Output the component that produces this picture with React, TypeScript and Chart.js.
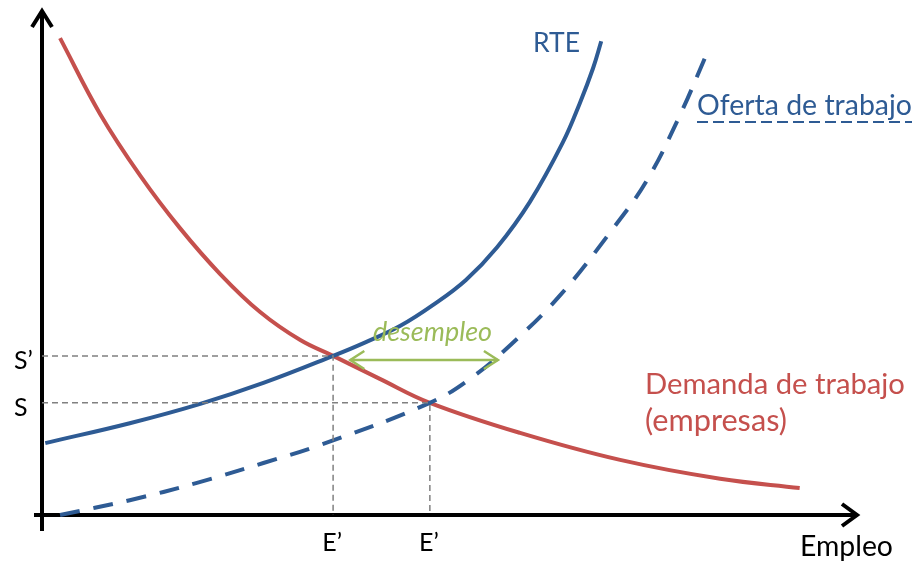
import React, { useEffect, useRef } from "react";
import { Chart, registerables } from "chart.js";

Chart.register(...registerables);

// Demand curve (Demanda de trabajo)
const demandX = [2.2, 7.1, 12.0, 16.8, 21.7, 26.6, 31.5, 35.5, 41.2, 47.3, 58.3, 70.5, 82.7, 92.4];
const demandY = [93.5, 78.6, 66.5, 56.3, 47.3, 39.8, 34.3, 31.2, 26.7, 22.0, 16.1, 10.8, 7.1, 5.3];

// RTE curve (solid)
const rteX = [0.4, 10.7, 19.3, 27.0, 35.5, 39.5, 43.7, 47.7, 51.7, 55.5, 59.5, 63.5, 65.6, 67.2, 68.2];
const rteY = [14.1, 18.0, 21.8, 25.9, 31.2, 33.9, 37.1, 41.2, 46.1, 52.5, 61.4, 73.0, 80.8, 87.6, 92.9];

// Oferta de trabajo (dashed)
const supplyX = [2.2, 10.7, 18.9, 27.0, 33.9, 47.3, 52.2, 57.1, 63.2, 69.6, 73.8, 77.8, 80.9];
const supplyY = [0.0, 2.9, 6.3, 10.2, 13.7, 22.0, 26.7, 33.3, 43.1, 56.1, 65.7, 78.4, 89.8];

// Equilibrium reference values
const eLabels = ["E\u2019", "E\u2019"];
const eValues = [35.5, 47.3];
const sLabels = ["S\u2019", "S"];
const sValues = [31.2, 22.0];

// desempleo arrow (between RTE and oferta)
const gapX = [37.6, 55.6];
const gapY = [30.4, 30.4];

const BLUE = "#2E5B94";
const RED = "#C5504D";
const GREEN = "#9BBB59";
const GREY = "#808080";
const FONT = "Lato, 'Open Sans', sans-serif";

const pts = (xs: number[], ys: number[]) => xs.map((x, i) => ({ x, y: ys[i] }));

function fitText(
  ctx: CanvasRenderingContext2D,
  text: string,
  x: number,
  y: number,
  width: number,
  color: string,
  style = "",
  align: CanvasTextAlign = "left"
) {
  ctx.font = `${style} 100px ${FONT}`;
  const w = ctx.measureText(text).width;
  const size = (100 * width) / w;
  ctx.font = `${style} ${size}px ${FONT}`;
  ctx.fillStyle = color;
  ctx.textAlign = align;
  ctx.textBaseline = "alphabetic";
  ctx.fillText(text, x, y);
}

function fixedText(
  ctx: CanvasRenderingContext2D,
  text: string,
  x: number,
  y: number,
  size: number,
  color: string,
  align: CanvasTextAlign = "left"
) {
  ctx.font = `${size}px ${FONT}`;
  ctx.fillStyle = color;
  ctx.textAlign = align;
  ctx.textBaseline = "alphabetic";
  ctx.fillText(text, x, y);
}

const diagramPlugin = {
  id: "diagram",
  beforeDatasetsDraw(chart: any) {
    const ctx = chart.ctx as CanvasRenderingContext2D;
    const { left, right, top, bottom } = chart.chartArea;
    ctx.save();
    ctx.strokeStyle = "#000";
    ctx.lineWidth = 4;
    ctx.lineJoin = "miter";
    ctx.lineCap = "butt";
    // y axis
    ctx.beginPath();
    ctx.moveTo(left, bottom + 16);
    ctx.lineTo(left, top + 6);
    ctx.stroke();
    ctx.beginPath();
    ctx.moveTo(left - 10, top + 22);
    ctx.lineTo(left, top + 6);
    ctx.lineTo(left + 10, top + 22);
    ctx.stroke();
    // x axis
    ctx.beginPath();
    ctx.moveTo(left - 8, bottom);
    ctx.lineTo(right - 5, bottom);
    ctx.stroke();
    ctx.beginPath();
    ctx.moveTo(right - 20, bottom - 11);
    ctx.lineTo(right - 5, bottom);
    ctx.lineTo(right - 20, bottom + 11);
    ctx.stroke();
    ctx.restore();
  },
  afterDraw(chart: any) {
    const ctx = chart.ctx as CanvasRenderingContext2D;
    const xs = chart.scales.x;
    const ys = chart.scales.y;
    const { left, bottom } = chart.chartArea;
    ctx.save();

    // desempleo arrowheads
    const ax1 = xs.getPixelForValue(gapX[0]);
    const ax2 = xs.getPixelForValue(gapX[1]);
    const ay = ys.getPixelForValue(gapY[0]);
    ctx.strokeStyle = GREEN;
    ctx.lineWidth = 2.5;
    ctx.beginPath();
    ctx.moveTo(ax1 + 14, ay - 9);
    ctx.lineTo(ax1, ay);
    ctx.lineTo(ax1 + 14, ay + 9);
    ctx.moveTo(ax2 - 14, ay - 9);
    ctx.lineTo(ax2, ay);
    ctx.lineTo(ax2 - 14, ay + 9);
    ctx.stroke();

    // tick labels S', S
    sLabels.forEach((t, i) => {
      const py = ys.getPixelForValue(sValues[i]);
      fixedText(ctx, t, left - 28, py + 13, 25, "#000");
    });
    // tick labels E'
    eLabels.forEach((t, i) => {
      const px = xs.getPixelForValue(eValues[i]);
      fixedText(ctx, t, px - 1, bottom + 36, 25, "#000", "center");
    });

    // texts
    fitText(ctx, "RTE", 533, 52, 47, BLUE);
    fitText(ctx, "Oferta de trabajo", 697, 115, 215, BLUE);
    ctx.strokeStyle = BLUE;
    ctx.lineWidth = 2;
    ctx.setLineDash([11, 5]);
    ctx.beginPath();
    ctx.moveTo(697, 122);
    ctx.lineTo(912, 122);
    ctx.stroke();
    ctx.setLineDash([]);
    fitText(ctx, "Demanda de trabajo", 645, 394, 260, RED);
    fitText(ctx, "(empresas)", 645, 431, 142, RED);
    fitText(ctx, "desempleo", 373, 341, 119, GREEN, "italic");
    fitText(ctx, "Empleo", 800, 556, 93, "#000");
    ctx.restore();
  },
};

export default function App() {
  const ref = useRef<HTMLCanvasElement>(null);
  useEffect(() => {
    document.body.style.margin = "0";
    document.body.style.overflow = "hidden";
    const canvas = ref.current!;
    const guide = {
      borderColor: GREY,
      borderWidth: 1.5,
      borderDash: [6, 4],
      pointRadius: 0,
      tension: 0,
      fill: false,
    };
    const curve = {
      borderWidth: 4,
      pointRadius: 0,
      tension: 0.4,
      clip: false,
      fill: false,
    };
    const chart = new Chart(canvas, {
      type: "line",
      data: {
        datasets: [
          { ...guide, data: [{ x: 0, y: sValues[0] }, { x: eValues[0], y: sValues[0] }, { x: eValues[0], y: 0 }] },
          { ...guide, data: [{ x: 0, y: sValues[1] }, { x: eValues[1], y: sValues[1] }, { x: eValues[1], y: 0 }] },
          {
            data: pts(gapX, gapY),
            borderColor: GREEN,
            borderWidth: 2.5,
            pointRadius: 0,
            tension: 0,
          },
          { ...curve, data: pts(supplyX, supplyY), borderColor: BLUE, borderDash: [20, 14] },
          { ...curve, data: pts(rteX, rteY), borderColor: BLUE },
          { ...curve, data: pts(demandX, demandY), borderColor: RED },
        ] as any,
      },
      options: {
        animation: false,
        responsive: false,
        devicePixelRatio: 1,
        layout: { padding: { left: 42, right: 58, top: 5, bottom: 47 } },
        plugins: { legend: { display: false }, tooltip: { enabled: false } },
        scales: {
          x: { type: "linear", min: 0, max: 100, display: false },
          y: { type: "linear", min: 0, max: 100, display: false },
        },
      },
      plugins: [diagramPlugin],
    });
    return () => chart.destroy();
  }, []);
  return (
    <div style={{ width: 920, height: 562, background: "#fff" }}>
      <canvas ref={ref} width={920} height={562} style={{ display: "block" }} />
    </div>
  );
}
